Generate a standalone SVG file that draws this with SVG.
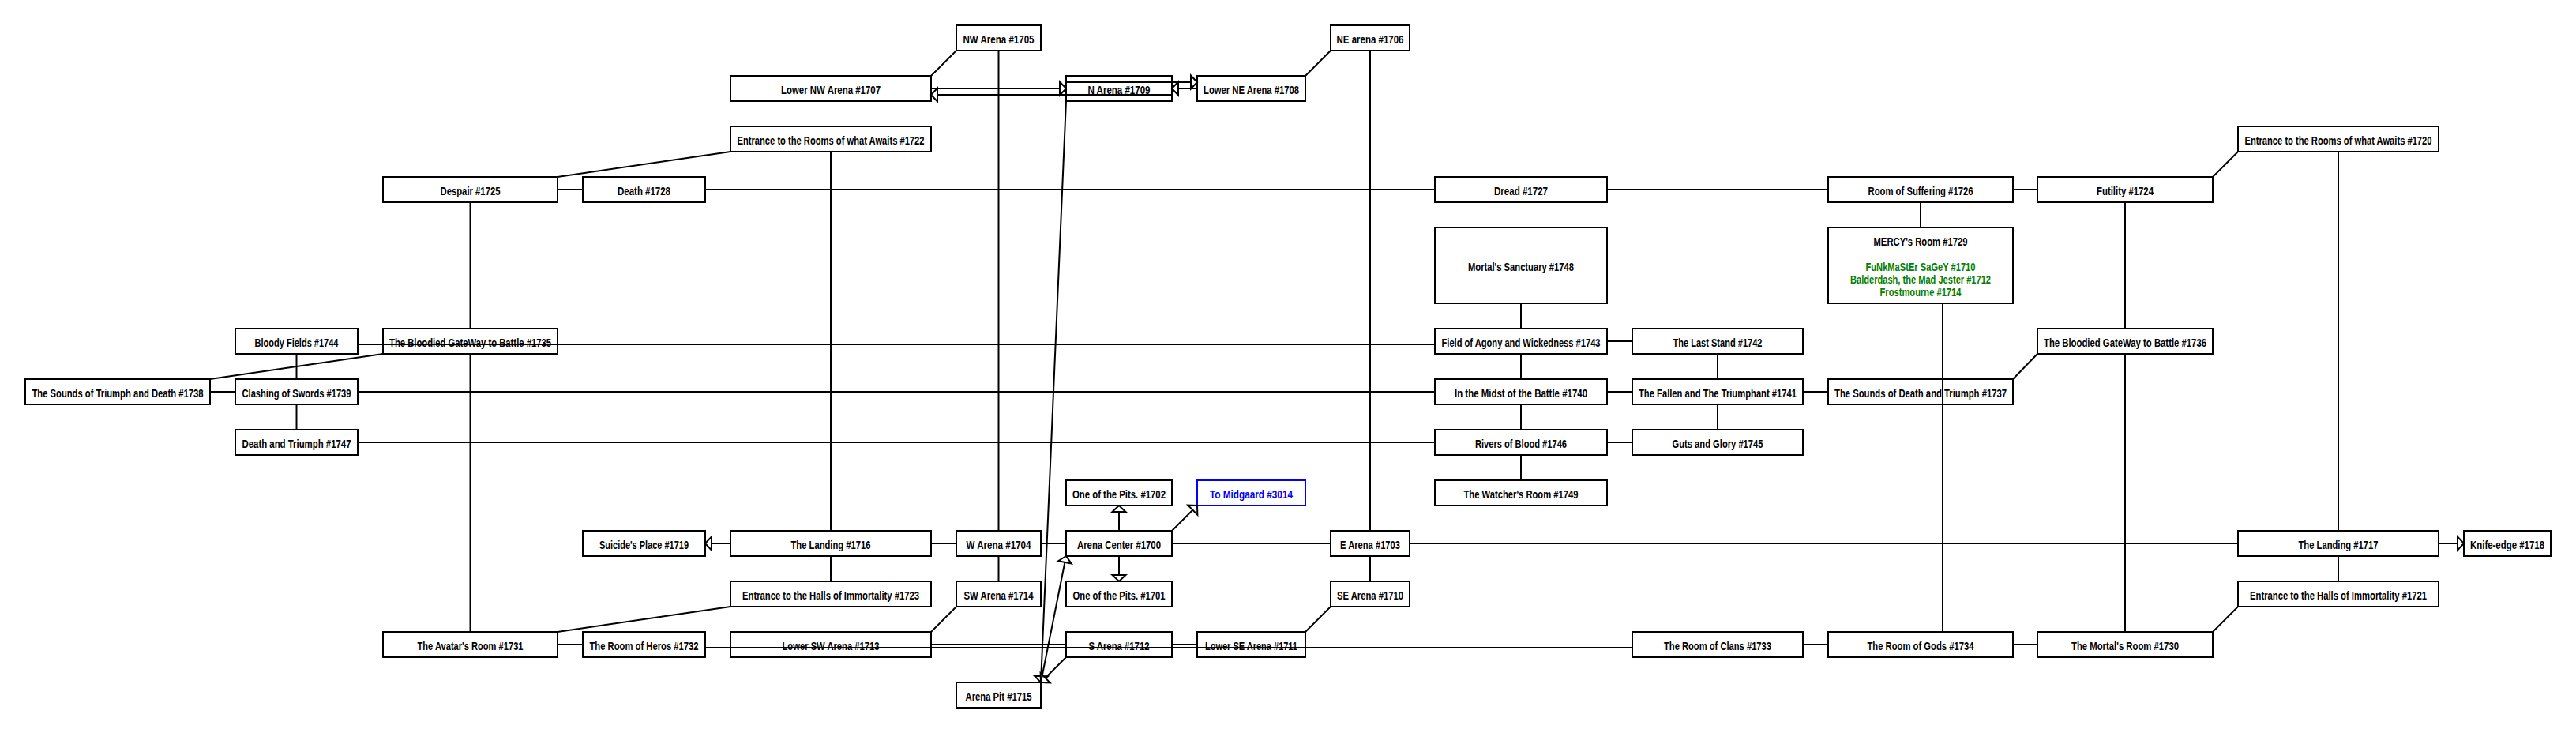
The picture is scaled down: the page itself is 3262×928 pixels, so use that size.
<svg xmlns="http://www.w3.org/2000/svg" width="3262" height="928" viewBox="0 0 3262 928">
<style>
.n rect{fill:#fff;stroke:#000;stroke-width:2}
.n text{font-family:"Liberation Sans",Arial,sans-serif;font-size:14px;font-weight:bold;fill:#000;text-anchor:middle}
.n text.g{fill:#008000}
.n.blue rect{stroke:#00f}
.n.blue text{fill:#00f}
#edges path{fill:none;stroke:#000;stroke-width:2}
</style>
<defs>
<marker id="arr" markerUnits="userSpaceOnUse" markerWidth="24" markerHeight="24" viewBox="-12 -12 24 24" refX="0" refY="0" orient="auto" overflow="visible">
<path d="M0,0 L-8,-8.5 L-8,8.5 Z" fill="#fff" stroke="#000" stroke-width="2"/>
</marker>
</defs>
<rect width="3262" height="928" fill="#fff"/>

<g id="nodes">
<g class="n" id="n1705"><rect x="1211" y="32" width="107" height="32"/><text x="1264.5" y="54.5" textLength="90" lengthAdjust="spacingAndGlyphs">NW Arena #1705</text></g>
<g class="n" id="n1706"><rect x="1685" y="32" width="100" height="32"/><text x="1735" y="54.5" textLength="85" lengthAdjust="spacingAndGlyphs">NE arena #1706</text></g>
<g class="n" id="n1707"><rect x="925" y="96" width="254" height="32"/><text x="1052" y="118.5" textLength="126" lengthAdjust="spacingAndGlyphs">Lower NW Arena #1707</text></g>
<g class="n" id="n1709"><rect x="1350" y="96" width="134" height="32"/><text x="1417" y="118.5" textLength="79" lengthAdjust="spacingAndGlyphs">N Arena #1709</text></g>
<g class="n" id="n1708"><rect x="1516" y="96" width="137" height="32"/><text x="1584.5" y="118.5" textLength="121" lengthAdjust="spacingAndGlyphs">Lower NE Arena #1708</text></g>
<g class="n" id="n1722"><rect x="925" y="160" width="254" height="32"/><text x="1052" y="182.5" textLength="237" lengthAdjust="spacingAndGlyphs">Entrance to the Rooms of what Awaits #1722</text></g>
<g class="n" id="n1720"><rect x="2834" y="160" width="254" height="32"/><text x="2961" y="182.5" textLength="237" lengthAdjust="spacingAndGlyphs">Entrance to the Rooms of what Awaits #1720</text></g>
<g class="n" id="n1725"><rect x="485" y="224" width="221" height="32"/><text x="595.5" y="246.5" textLength="76" lengthAdjust="spacingAndGlyphs">Despair #1725</text></g>
<g class="n" id="n1728"><rect x="738" y="224" width="155" height="32"/><text x="815.5" y="246.5" textLength="67" lengthAdjust="spacingAndGlyphs">Death #1728</text></g>
<g class="n" id="n1727"><rect x="1817" y="224" width="218" height="32"/><text x="1926" y="246.5" textLength="68" lengthAdjust="spacingAndGlyphs">Dread #1727</text></g>
<g class="n" id="n1726"><rect x="2315" y="224" width="234" height="32"/><text x="2432" y="246.5" textLength="133" lengthAdjust="spacingAndGlyphs">Room of Suffering #1726</text></g>
<g class="n" id="n1724"><rect x="2580" y="224" width="222" height="32"/><text x="2691" y="246.5" textLength="72" lengthAdjust="spacingAndGlyphs">Futility #1724</text></g>
<g class="n" id="n1748"><rect x="1817" y="288" width="218" height="96"/><text x="1926" y="342.5" textLength="134" lengthAdjust="spacingAndGlyphs">Mortal's Sanctuary #1748</text></g>
<g class="n" id="n1729"><rect x="2315" y="288" width="234" height="96"/><text x="2432" y="310.5" textLength="119" lengthAdjust="spacingAndGlyphs">MERCY's Room #1729</text><text class="g" x="2432" y="343" textLength="139" lengthAdjust="spacingAndGlyphs">FuNkMaStEr SaGeY #1710</text><text class="g" x="2432" y="359" textLength="178" lengthAdjust="spacingAndGlyphs">Balderdash, the Mad Jester #1712</text><text class="g" x="2432" y="375" textLength="103" lengthAdjust="spacingAndGlyphs">Frostmourne #1714</text></g>
<g class="n" id="n1744"><rect x="298" y="416" width="155" height="32"/><text x="375.5" y="438.5" textLength="106" lengthAdjust="spacingAndGlyphs">Bloody Fields #1744</text></g>
<g class="n" id="n1735"><rect x="485" y="416" width="221" height="32"/><text x="595.5" y="438.5" textLength="205" lengthAdjust="spacingAndGlyphs">The Bloodied GateWay to Battle #1735</text></g>
<g class="n" id="n1743"><rect x="1817" y="416" width="218" height="32"/><text x="1926" y="438.5" textLength="201" lengthAdjust="spacingAndGlyphs">Field of Agony and Wickedness #1743</text></g>
<g class="n" id="n1742"><rect x="2067" y="416" width="216" height="32"/><text x="2175" y="438.5" textLength="113" lengthAdjust="spacingAndGlyphs">The Last Stand #1742</text></g>
<g class="n" id="n1736"><rect x="2580" y="416" width="222" height="32"/><text x="2691" y="438.5" textLength="206" lengthAdjust="spacingAndGlyphs">The Bloodied GateWay to Battle #1736</text></g>
<g class="n" id="n1738"><rect x="32" y="480" width="234" height="32"/><text x="149" y="502.5" textLength="217" lengthAdjust="spacingAndGlyphs">The Sounds of Triumph and Death #1738</text></g>
<g class="n" id="n1739"><rect x="298" y="480" width="155" height="32"/><text x="375.5" y="502.5" textLength="138" lengthAdjust="spacingAndGlyphs">Clashing of Swords #1739</text></g>
<g class="n" id="n1740"><rect x="1817" y="480" width="218" height="32"/><text x="1926" y="502.5" textLength="168" lengthAdjust="spacingAndGlyphs">In the Midst of the Battle #1740</text></g>
<g class="n" id="n1741"><rect x="2067" y="480" width="216" height="32"/><text x="2175" y="502.5" textLength="200" lengthAdjust="spacingAndGlyphs">The Fallen and The Triumphant #1741</text></g>
<g class="n" id="n1737"><rect x="2315" y="480" width="234" height="32"/><text x="2432" y="502.5" textLength="218" lengthAdjust="spacingAndGlyphs">The Sounds of Death and Triumph #1737</text></g>
<g class="n" id="n1747"><rect x="298" y="544" width="155" height="32"/><text x="375.5" y="566.5" textLength="138" lengthAdjust="spacingAndGlyphs">Death and Triumph #1747</text></g>
<g class="n" id="n1746"><rect x="1817" y="544" width="218" height="32"/><text x="1926" y="566.5" textLength="116" lengthAdjust="spacingAndGlyphs">Rivers of Blood #1746</text></g>
<g class="n" id="n1745"><rect x="2067" y="544" width="216" height="32"/><text x="2175" y="566.5" textLength="115" lengthAdjust="spacingAndGlyphs">Guts and Glory #1745</text></g>
<g class="n" id="n1702"><rect x="1350" y="608" width="134" height="32"/><text x="1417" y="630.5" textLength="118" lengthAdjust="spacingAndGlyphs">One of the Pits. #1702</text></g>
<g class="n blue" id="n3014"><rect x="1516" y="608" width="137" height="32"/><text x="1584.5" y="630.5" textLength="105" lengthAdjust="spacingAndGlyphs">To Midgaard #3014</text></g>
<g class="n" id="n1749"><rect x="1817" y="608" width="218" height="32"/><text x="1926" y="630.5" textLength="145" lengthAdjust="spacingAndGlyphs">The Watcher's Room #1749</text></g>
<g class="n" id="n1719"><rect x="738" y="672" width="155" height="32"/><text x="815.5" y="694.5" textLength="113" lengthAdjust="spacingAndGlyphs">Suicide's Place #1719</text></g>
<g class="n" id="n1716"><rect x="925" y="672" width="254" height="32"/><text x="1052" y="694.5" textLength="101" lengthAdjust="spacingAndGlyphs">The Landing #1716</text></g>
<g class="n" id="n1704"><rect x="1211" y="672" width="107" height="32"/><text x="1264.5" y="694.5" textLength="82" lengthAdjust="spacingAndGlyphs">W Arena #1704</text></g>
<g class="n" id="n1700"><rect x="1350" y="672" width="134" height="32"/><text x="1417" y="694.5" textLength="106" lengthAdjust="spacingAndGlyphs">Arena Center #1700</text></g>
<g class="n" id="n1703"><rect x="1685" y="672" width="100" height="32"/><text x="1735" y="694.5" textLength="76" lengthAdjust="spacingAndGlyphs">E Arena #1703</text></g>
<g class="n" id="n1717"><rect x="2834" y="672" width="254" height="32"/><text x="2961" y="694.5" textLength="101" lengthAdjust="spacingAndGlyphs">The Landing #1717</text></g>
<g class="n" id="n1718"><rect x="3120" y="672" width="110" height="32"/><text x="3175" y="694.5" textLength="94" lengthAdjust="spacingAndGlyphs">Knife-edge #1718</text></g>
<g class="n" id="n1723"><rect x="925" y="736" width="254" height="32"/><text x="1052" y="758.5" textLength="224" lengthAdjust="spacingAndGlyphs">Entrance to the Halls of Immortality #1723</text></g>
<g class="n" id="n1714"><rect x="1211" y="736" width="107" height="32"/><text x="1264.5" y="758.5" textLength="88" lengthAdjust="spacingAndGlyphs">SW Arena #1714</text></g>
<g class="n" id="n1701"><rect x="1350" y="736" width="134" height="32"/><text x="1417" y="758.5" textLength="117" lengthAdjust="spacingAndGlyphs">One of the Pits. #1701</text></g>
<g class="n" id="n1710"><rect x="1685" y="736" width="100" height="32"/><text x="1735" y="758.5" textLength="84" lengthAdjust="spacingAndGlyphs">SE Arena #1710</text></g>
<g class="n" id="n1721"><rect x="2834" y="736" width="254" height="32"/><text x="2961" y="758.5" textLength="224" lengthAdjust="spacingAndGlyphs">Entrance to the Halls of Immortality #1721</text></g>
<g class="n" id="n1731"><rect x="485" y="800" width="221" height="32"/><text x="595.5" y="822.5" textLength="134" lengthAdjust="spacingAndGlyphs">The Avatar's Room #1731</text></g>
<g class="n" id="n1732"><rect x="738" y="800" width="155" height="32"/><text x="815.5" y="822.5" textLength="138" lengthAdjust="spacingAndGlyphs">The Room of Heros #1732</text></g>
<g class="n" id="n1713"><rect x="925" y="800" width="254" height="32"/><text x="1052" y="822.5" textLength="123" lengthAdjust="spacingAndGlyphs">Lower SW Arena #1713</text></g>
<g class="n" id="n1712"><rect x="1350" y="800" width="134" height="32"/><text x="1417" y="822.5" textLength="77" lengthAdjust="spacingAndGlyphs">S Arena #1712</text></g>
<g class="n" id="n1711"><rect x="1516" y="800" width="137" height="32"/><text x="1584.5" y="822.5" textLength="117" lengthAdjust="spacingAndGlyphs">Lower SE Arena #1711</text></g>
<g class="n" id="n1733"><rect x="2067" y="800" width="216" height="32"/><text x="2175" y="822.5" textLength="136" lengthAdjust="spacingAndGlyphs">The Room of Clans #1733</text></g>
<g class="n" id="n1734"><rect x="2315" y="800" width="234" height="32"/><text x="2432" y="822.5" textLength="135" lengthAdjust="spacingAndGlyphs">The Room of Gods #1734</text></g>
<g class="n" id="n1730"><rect x="2580" y="800" width="222" height="32"/><text x="2691" y="822.5" textLength="136" lengthAdjust="spacingAndGlyphs">The Mortal's Room #1730</text></g>
<g class="n" id="n1715"><rect x="1211" y="864" width="107" height="32"/><text x="1264.5" y="886.5" textLength="84" lengthAdjust="spacingAndGlyphs">Arena Pit #1715</text></g>
</g>

<g id="edges">
<path d="M706,240 H738"/>
<path d="M706,224 L925,192"/>
<path d="M893,240 H1817"/>
<path d="M2035,240 H2315"/>
<path d="M2549,240 H2580"/>
<path d="M2802,224 L2834,192"/>
<path d="M2961,192 V672"/>
<path d="M2691,256 V416"/>
<path d="M2691,448 V800"/>
<path d="M2432,256 V288"/>
<path d="M2460,384 V800"/>
<path d="M2549,480 L2580,448"/>
<path d="M2283,496 H2315"/>
<path d="M1926,384 V416"/>
<path d="M2035,432 H2067"/>
<path d="M1926,448 V480"/>
<path d="M2175,448 V480"/>
<path d="M2035,496 H2067"/>
<path d="M1926,512 V544"/>
<path d="M2175,512 V544"/>
<path d="M2035,560 H2067"/>
<path d="M1926,576 V608"/>
<path d="M453,436 H1817"/>
<path d="M453,496 H1817"/>
<path d="M453,560 H1817"/>
<path d="M266,496 H298"/>
<path d="M375.5,448 V480"/>
<path d="M375.5,512 V544"/>
<path d="M266,480 L485,448"/>
<path d="M595.5,256 V416"/>
<path d="M595.5,448 V800"/>
<path d="M706,816 H738"/>
<path d="M706,800 L925,768"/>
<path d="M893,820 H2067"/>
<path d="M2283,816 H2315"/>
<path d="M2549,816 H2580"/>
<path d="M2802,800 L2834,768"/>
<path d="M2961,704 V736"/>
<path d="M3088,688 H3120" marker-end="url(#arr)"/>
<path d="M1785,688 H2834"/>
<path d="M1484,688 H1685"/>
<path d="M1318,688 H1350"/>
<path d="M1179,688 H1211"/>
<path d="M925,688 H893" marker-end="url(#arr)"/>
<path d="M1052,192 V672"/>
<path d="M1052,704 V736"/>
<path d="M1264.5,64 V672"/>
<path d="M1264.5,704 V736"/>
<path d="M1211,64 L1179,96"/>
<path d="M1735,64 V672"/>
<path d="M1735,704 V736"/>
<path d="M1685,64 L1653,96"/>
<path d="M1685,768 L1653,800"/>
<path d="M1211,768 L1179,800"/>
<path d="M1417,672 V640" marker-end="url(#arr)"/>
<path d="M1417,704 V736" marker-end="url(#arr)"/>
<path d="M1484,672 L1516,640" marker-end="url(#arr)"/>
<path d="M1350,128 L1318,864" marker-end="url(#arr)"/>
<path d="M1350,832 L1318,864" marker-end="url(#arr)"/>
<path d="M1318,864 L1350,704" marker-end="url(#arr)"/>
<path d="M1179,112 H1350" marker-end="url(#arr)"/>
<path d="M1484,120 H1179" marker-end="url(#arr)"/>
<path d="M1350,104 H1516" marker-end="url(#arr)"/>
<path d="M1516,112 H1484" marker-end="url(#arr)"/>
<path d="M1179,816 H1350"/>
<path d="M1484,816 H1516"/>
</g>
</svg>
